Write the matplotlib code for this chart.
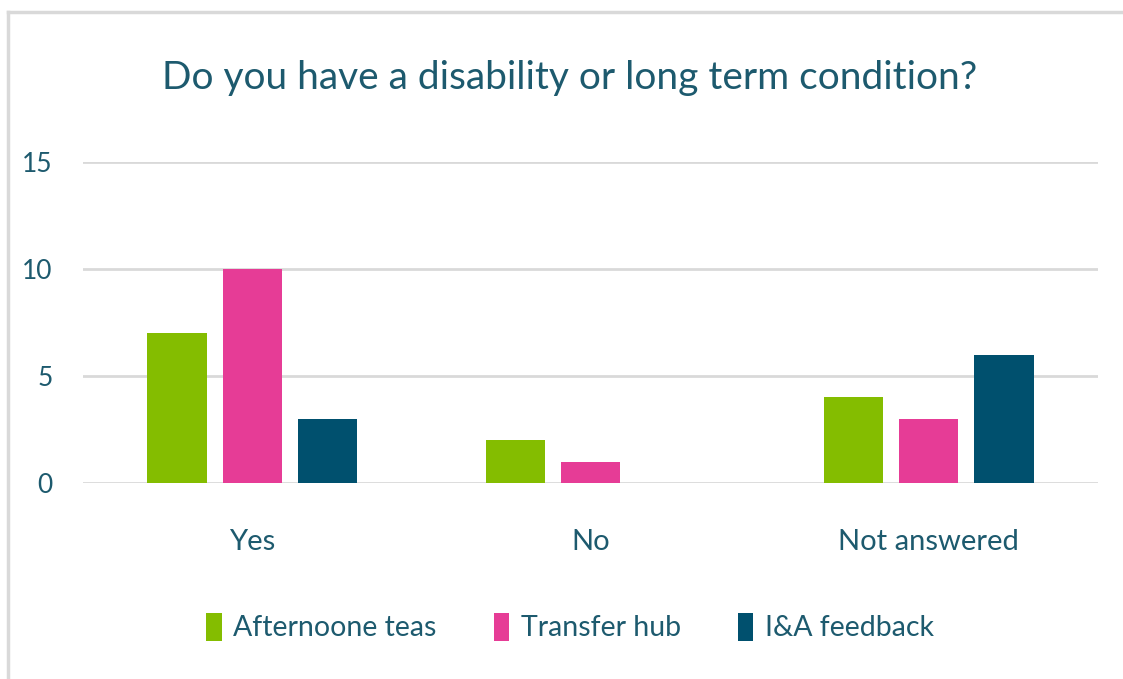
import matplotlib
matplotlib.use("Agg")
import matplotlib.pyplot as plt
import numpy as np
from matplotlib.lines import Line2D
from matplotlib.patches import Patch

categories = ["Yes", "No", "Not answered"]
series_names = ["Afternoone teas", "Transfer hub", "I&A feedback"]
afternoon_teas = [7, 2, 4]
transfer_hub = [10, 1, 3]
ia_feedback = [3, 0, 6]
colors = ["#84bd00", "#e63c96", "#00506e"]
yticks = [0, 5, 10, 15]

txt = "#1d5a6e"
plt.rcParams['font.family'] = ['Lato', 'DejaVu Sans']
plt.rcParams['font.weight'] = 'normal'

fig = plt.figure(figsize=(11.23, 6.79), dpi=100)
ax = fig.add_axes([83/1123, 1-483/679, (1098-83)/1123, (483-162)/679])

x = np.arange(len(categories))
w = 0.175
step = 0.222
for i, (vals, c) in enumerate(zip([afternoon_teas, transfer_hub, ia_feedback], colors)):
    ax.bar(x + (i-1)*step, vals, width=w, color=c, zorder=3)

ax.set_xlim(-0.5, 2.5)
ax.set_ylim(0, 15)
ax.set_yticks(yticks)
ax.set_yticklabels([str(t) for t in yticks])
ax.set_xticks(x)
ax.set_xticklabels(categories)
ax.tick_params(axis='y', length=0, pad=22, labelsize=19, labelcolor=txt)
ax.tick_params(axis='x', length=0, pad=33, labelsize=21, labelcolor=txt)
ax.grid(axis='y', color='#d9d9d9', linewidth=2, zorder=0)
for s in ax.spines.values():
    s.set_visible(False)

fig.text(570/1123, 1-78/679, "Do you have a disability or long term condition?",
         ha='center', va='center', fontsize=28, color=txt)

handles = [Patch(facecolor=c, edgecolor='none') for c in colors]
fig.legend(handles, series_names, loc='center', bbox_to_anchor=(570/1123, 1-627/679),
           ncol=3, frameon=False, fontsize=20.5, labelcolor=txt,
           handlelength=0.55, handleheight=1.15, handletextpad=0.4, columnspacing=2.0)

# frame lines
fig.add_artist(Line2D([8/1123, 8/1123], [0, 1-12/679], color='#d9d9d9', linewidth=2.5))
fig.add_artist(Line2D([8/1123, 1], [1-12/679, 1-12/679], color='#d9d9d9', linewidth=2.5))

fig.savefig("out.png", dpi=100, facecolor='white')
